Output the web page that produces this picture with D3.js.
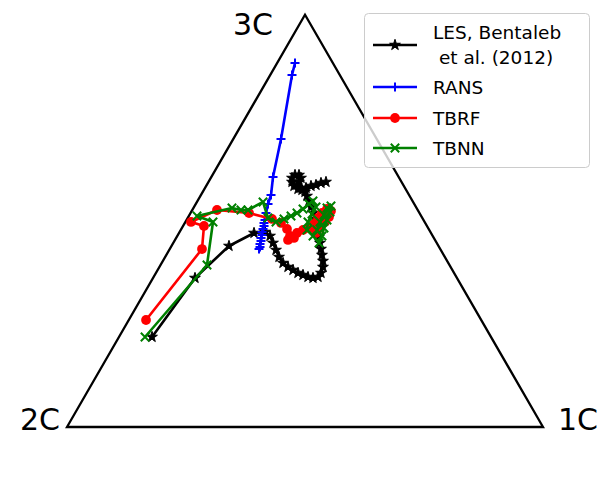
<!DOCTYPE html>
<html>
<head>
<meta charset="utf-8">
<script src="https://cdn.jsdelivr.net/npm/d3@7"></script>
<style>
html,body{margin:0;padding:0;background:#fff;}
svg{display:block;font-family:"DejaVu Sans",sans-serif;}
</style>
</head>
<body>
<svg id="chart" width="598" height="500"></svg>
<script>
// Barycentric-map coordinates (x, y) inside the unit triangle:
// 2C = (0,0), 1C = (1,0), 3C = (0.5, sqrt(3)/2)
const vertexLabels = ["2C", "1C", "3C"];
const vertices = [[0, 0], [1, 0], [0.5, Math.sqrt(3) / 2]];

const lesX = [0.1786,0.2689,0.3403,0.3929,0.4160,0.4265,0.4328,0.4391,0.4454,0.4538,0.4643,0.4748,0.4853,0.4958,0.5063,0.5168,0.5273,0.5336,0.5378,0.5378,0.5357,0.5336,0.5315,0.5294,0.5273,0.5231,0.5210,0.5168,0.5126,0.5084,0.5042,0.5000,0.4937,0.4853,0.4769,0.4727,0.4727,0.4790,0.4874,0.4916,0.4874,0.4832,0.4916,0.5021,0.5126,0.5231,0.5336,0.5441];
const lesY = [0.1891,0.3130,0.3803,0.4076,0.4097,0.4013,0.3866,0.3718,0.3571,0.3445,0.3361,0.3298,0.3235,0.3193,0.3151,0.3130,0.3151,0.3235,0.3361,0.3487,0.3613,0.3739,0.3866,0.3992,0.4118,0.4244,0.4370,0.4496,0.4622,0.4748,0.4853,0.4937,0.4979,0.5000,0.5063,0.5147,0.5231,0.5294,0.5294,0.5231,0.5147,0.5084,0.5021,0.5021,0.5063,0.5084,0.5126,0.5147];

const ransX = [0.4790,0.4727,0.4496,0.4328,0.4286,0.4223,0.4181,0.4160,0.4139,0.4139,0.4118,0.4097,0.4097,0.4076,0.4076,0.4055,0.4055,0.4034];
const ransY = [0.7647,0.7395,0.6050,0.5252,0.4874,0.4685,0.4496,0.4349,0.4286,0.4223,0.4160,0.4097,0.4034,0.3971,0.3908,0.3845,0.3782,0.3739];

const tbrfX = [0.1660,0.2836,0.2878,0.2605,0.3151,0.3824,0.4307,0.4496,0.4622,0.4685,0.4643,0.4769,0.4832,0.4958,0.5084,0.5189,0.5273,0.5357,0.5462,0.5546,0.5504,0.5420,0.5315,0.5231,0.5294,0.5399,0.5483];
const tbrfY = [0.2248,0.3739,0.4223,0.4307,0.4559,0.4496,0.4370,0.4286,0.4160,0.4013,0.3929,0.3971,0.4076,0.4139,0.4181,0.4265,0.4391,0.4496,0.4580,0.4538,0.4412,0.4307,0.4181,0.4076,0.4223,0.4370,0.4496];

const tbnnX = [0.1639,0.2941,0.3067,0.2731,0.3466,0.3655,0.3803,0.4118,0.4223,0.4391,0.4559,0.4706,0.4832,0.4958,0.5084,0.5168,0.5231,0.5147,0.5063,0.5042,0.5168,0.5294,0.5357,0.5399,0.5462,0.5525,0.5546,0.5462,0.5399,0.5315,0.5252];
const tbnnY = [0.1891,0.3403,0.4307,0.4433,0.4601,0.4559,0.4559,0.4727,0.4391,0.4307,0.4370,0.4433,0.4496,0.4580,0.4685,0.4748,0.4622,0.4475,0.4307,0.4139,0.4013,0.3866,0.4013,0.4181,0.4349,0.4517,0.4643,0.4601,0.4454,0.4307,0.4139];

const seriesNames = ["LES, Bentaleb\n et al. (2012)", "RANS", "TBRF", "TBNN"];
const seriesColors = ["#000000", "#0000ff", "#ff0000", "#008000"];
const seriesMarkers = ["star", "plus", "circle", "cross"];
const seriesX = [lesX, ransX, tbrfX, tbnnX];
const seriesY = [lesY, ransY, tbrfY, tbnnY];

const svg = d3.select("#chart");
const x = d3.scaleLinear().domain([0, 1]).range([67, 543]);
const y = d3.scaleLinear().domain([0, 1]).range([427, -49]);

// triangle
svg.append("path")
  .attr("d", d3.line().x(d => x(d[0])).y(d => y(d[1])).curve(d3.curveLinearClosed)(vertices))
  .attr("fill", "none").attr("stroke", "#000").attr("stroke-width", 2.3)
  .attr("stroke-linejoin", "miter");

// vertex labels
const labelFont = 30;
svg.append("text").text(vertexLabels[0]).attr("x", x(vertices[0][0]) - 7).attr("y", y(vertices[0][1]) + 3)
  .attr("text-anchor", "end").attr("font-size", labelFont);
svg.append("text").text(vertexLabels[1]).attr("x", x(vertices[1][0]) + 15).attr("y", y(vertices[1][1]) + 3)
  .attr("text-anchor", "start").attr("font-size", labelFont);
svg.append("text").text(vertexLabels[2]).attr("x", x(vertices[2][0]) - 32).attr("y", y(vertices[2][1]) + 20)
  .attr("text-anchor", "end").attr("font-size", labelFont);

function markerPath(type) {
  switch (type) {
    case "star": return d3.symbol().type(d3.symbolStar).size(36)();
    case "circle": return d3.symbol().type(d3.symbolCircle).size(75)();
    case "plus": return "M-4.5,0H4.5M0,-4.5V4.5";
    case "cross": return "M-4.2,-4.2L4.2,4.2M-4.2,4.2L4.2,-4.2";
  }
}
function drawMarker(g, type, color) {
  const p = g.append("path").attr("d", markerPath(type));
  if (type === "star" || type === "circle") p.attr("fill", color).attr("stroke", color).attr("stroke-width", type === "star" ? 1 : 0);
  else p.attr("fill", "none").attr("stroke", color).attr("stroke-width", 2);
}

const line = d3.line().x(d => x(d[0])).y(d => y(d[1]));
seriesNames.forEach((name, i) => {
  const pts = seriesX[i].map((v, j) => [v, seriesY[i][j]]);
  const g = svg.append("g");
  g.append("path").attr("d", line(pts)).attr("fill", "none")
    .attr("stroke", seriesColors[i]).attr("stroke-width", 2.6).attr("stroke-linejoin", "round");
  pts.forEach(p => {
    const m = g.append("g").attr("transform", `translate(${x(p[0])},${y(p[1])})`);
    drawMarker(m, seriesMarkers[i], seriesColors[i]);
  });
});

// legend
const leg = svg.append("g");
leg.append("rect").attr("x", 364.5).attr("y", 13.5).attr("width", 225).attr("height", 154)
  .attr("rx", 4).attr("fill", "#fff").attr("fill-opacity", 0.8).attr("stroke", "#cccccc").attr("stroke-width", 1);
const legY = [45, 87, 118, 148];
seriesNames.forEach((name, i) => {
  const g = leg.append("g");
  g.append("line").attr("x1", 373).attr("x2", 417).attr("y1", legY[i]).attr("y2", legY[i])
    .attr("stroke", seriesColors[i]).attr("stroke-width", 2.6);
  const m = g.append("g").attr("transform", `translate(395,${legY[i]})`);
  drawMarker(m, seriesMarkers[i], seriesColors[i]);
  const lines = name.split("\n");
  const t = g.append("text").attr("font-size", 18.5).attr("x", 433);
  if (lines.length === 1) {
    t.attr("y", legY[i] + 6.5).text(lines[0]);
  } else {
    lines.forEach((ln, k) => {
      t.append("tspan").attr("x", 433).attr("y", 38.5 + k * 25).attr("xml:space", "preserve").style("white-space", "pre").text(ln);
    });
  }
});
</script>
</body>
</html>
